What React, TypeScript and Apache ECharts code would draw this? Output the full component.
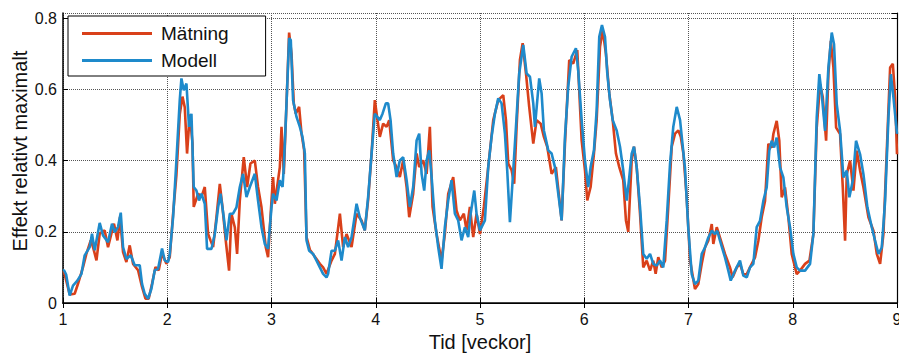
import React, { useEffect, useRef } from "react";
import * as echarts from "echarts";

const seriesNames = ["Mätning", "Modell"];
const xTicks = [1, 2, 3, 4, 5, 6, 7, 8, 9];
const yTickLabels = ["0", "0.2", "0.4", "0.6", "0.8"];

const matning: [number, number][] = [
  [1.000,0.085],[1.010,0.087],[1.064,0.024],[1.112,0.026],[1.144,0.054],[1.192,0.101],[1.225,0.139],[1.266,0.176],[1.288,0.157],[1.321,0.120],[1.352,0.195],[1.400,0.204],[1.432,0.157],[1.464,0.195],[1.489,0.223],[1.522,0.176],[1.547,0.242],[1.576,0.143],[1.608,0.115],[1.640,0.162],[1.672,0.110],[1.720,0.092],[1.758,0.045],[1.791,0.012],[1.822,0.012],[1.854,0.054],[1.887,0.101],[1.918,0.092],[1.950,0.139],[1.992,0.110],
  [2.024,0.129],[2.056,0.250],[2.088,0.360],[2.120,0.530],[2.146,0.580],[2.168,0.550],[2.190,0.420],[2.216,0.530],[2.242,0.450],[2.254,0.270],[2.296,0.307],[2.328,0.298],[2.360,0.326],[2.392,0.194],[2.415,0.176],[2.440,0.157],[2.472,0.241],[2.504,0.335],[2.530,0.269],[2.561,0.176],[2.593,0.091],[2.616,0.251],[2.648,0.213],[2.670,0.138],[2.696,0.288],[2.734,0.410],[2.766,0.326],[2.798,0.392],[2.840,0.400],[2.871,0.326],[2.904,0.269],[2.945,0.157],[2.967,0.129],
  [3.000,0.288],[3.015,0.354],[3.032,0.279],[3.080,0.382],[3.096,0.495],[3.118,0.363],[3.144,0.560],[3.169,0.760],[3.192,0.700],[3.214,0.560],[3.233,0.532],[3.265,0.551],[3.288,0.476],[3.313,0.430],[3.336,0.185],[3.368,0.150],[3.416,0.130],[3.464,0.110],[3.495,0.100],[3.528,0.082],[3.576,0.119],[3.608,0.138],[3.656,0.251],[3.687,0.157],[3.720,0.194],[3.768,0.157],[3.816,0.251],[3.864,0.232],[3.895,0.204],[3.927,0.290],[3.960,0.420],[3.991,0.570],
  [4.039,0.467],[4.071,0.504],[4.104,0.495],[4.129,0.514],[4.167,0.401],[4.200,0.382],[4.231,0.354],[4.263,0.401],[4.296,0.326],[4.321,0.241],[4.359,0.307],[4.392,0.420],[4.417,0.382],[4.455,0.401],[4.488,0.363],[4.519,0.495],[4.545,0.270],[4.583,0.194],[4.631,0.119],[4.663,0.194],[4.695,0.307],[4.743,0.354],[4.775,0.260],[4.807,0.232],[4.845,0.251],[4.871,0.204],[4.903,0.270],[4.935,0.185],[4.967,0.251],
  [5.000,0.194],[5.037,0.270],[5.079,0.382],[5.127,0.514],[5.175,0.570],[5.223,0.584],[5.249,0.514],[5.271,0.392],[5.303,0.373],[5.328,0.335],[5.351,0.495],[5.383,0.683],[5.409,0.730],[5.441,0.645],[5.472,0.551],[5.511,0.448],[5.543,0.514],[5.582,0.504],[5.613,0.467],[5.645,0.439],[5.687,0.363],[5.728,0.382],[5.783,0.232],[5.815,0.448],[5.856,0.683],[5.894,0.673],[5.933,0.711],[5.975,0.457],
  [6.007,0.373],[6.029,0.288],[6.061,0.326],[6.093,0.420],[6.119,0.514],[6.151,0.720],[6.177,0.767],[6.208,0.700],[6.240,0.589],[6.273,0.514],[6.304,0.420],[6.336,0.382],[6.374,0.345],[6.400,0.232],[6.422,0.200],[6.455,0.401],[6.477,0.439],[6.503,0.382],[6.535,0.251],[6.566,0.100],[6.599,0.119],[6.631,0.091],[6.662,0.119],[6.685,0.082],[6.710,0.129],[6.743,0.100],[6.775,0.119],[6.806,0.270],[6.839,0.439],[6.871,0.476],[6.903,0.485],[6.926,0.467],[6.951,0.420],[6.982,0.300],
  [7.015,0.120],[7.062,0.039],[7.094,0.053],[7.127,0.110],[7.158,0.156],[7.190,0.175],[7.223,0.222],[7.238,0.166],[7.271,0.213],[7.302,0.184],[7.350,0.138],[7.398,0.100],[7.424,0.072],[7.463,0.100],[7.494,0.110],[7.526,0.081],[7.559,0.081],[7.590,0.100],[7.638,0.128],[7.670,0.175],[7.702,0.241],[7.734,0.287],[7.766,0.447],[7.798,0.437],[7.814,0.475],[7.846,0.512],[7.871,0.456],[7.894,0.297],[7.926,0.325],[7.958,0.241],[7.990,0.138],
  [8.038,0.081],[8.070,0.091],[8.118,0.110],[8.160,0.119],[8.198,0.194],[8.230,0.493],[8.262,0.615],[8.288,0.578],[8.320,0.456],[8.342,0.643],[8.365,0.737],[8.390,0.662],[8.416,0.493],[8.454,0.475],[8.480,0.325],[8.502,0.175],[8.518,0.362],[8.550,0.400],[8.582,0.316],[8.614,0.428],[8.646,0.372],[8.678,0.325],[8.726,0.241],[8.774,0.203],[8.806,0.138],[8.838,0.110],[8.870,0.194],[8.902,0.428],[8.934,0.662],[8.960,0.672],[8.982,0.578],[9.000,0.418],
];

const modell: [number, number][] = [
  [1.000,0.091],[1.010,0.092],[1.030,0.080],[1.064,0.021],[1.096,0.049],[1.138,0.063],[1.177,0.082],[1.208,0.134],[1.256,0.157],[1.278,0.195],[1.304,0.148],[1.352,0.225],[1.384,0.190],[1.432,0.171],[1.470,0.223],[1.496,0.199],[1.528,0.214],[1.554,0.254],[1.576,0.157],[1.608,0.124],[1.650,0.134],[1.688,0.106],[1.736,0.106],[1.758,0.054],[1.784,0.026],[1.816,0.012],[1.848,0.040],[1.880,0.092],[1.912,0.096],[1.950,0.153],[1.976,0.120],
  [2.008,0.115],[2.024,0.138],[2.056,0.241],[2.088,0.401],[2.120,0.570],[2.136,0.631],[2.158,0.598],[2.184,0.617],[2.209,0.495],[2.232,0.532],[2.254,0.326],[2.280,0.316],[2.305,0.288],[2.328,0.307],[2.360,0.279],[2.382,0.152],[2.424,0.152],[2.456,0.194],[2.488,0.269],[2.511,0.307],[2.542,0.241],[2.568,0.176],[2.600,0.251],[2.631,0.251],[2.664,0.269],[2.696,0.326],[2.727,0.363],[2.760,0.298],[2.792,0.326],[2.840,0.363],[2.871,0.288],[2.904,0.213],[2.936,0.166],[2.967,0.152],
  [3.000,0.269],[3.015,0.307],[3.048,0.288],[3.080,0.345],[3.106,0.326],[3.118,0.382],[3.144,0.561],[3.169,0.744],[3.185,0.739],[3.207,0.570],[3.240,0.523],[3.272,0.495],[3.297,0.467],[3.320,0.420],[3.336,0.176],[3.361,0.147],[3.399,0.138],[3.432,0.119],[3.464,0.100],[3.495,0.082],[3.528,0.072],[3.543,0.082],[3.576,0.147],[3.608,0.147],[3.639,0.176],[3.672,0.119],[3.704,0.185],[3.735,0.157],[3.768,0.185],[3.816,0.279],[3.847,0.241],[3.895,0.204],[3.927,0.298],[3.960,0.420],[3.991,0.532],
  [4.039,0.514],[4.065,0.532],[4.097,0.561],[4.119,0.561],[4.142,0.514],[4.167,0.420],[4.200,0.354],[4.231,0.401],[4.263,0.410],[4.296,0.345],[4.327,0.270],[4.359,0.326],[4.392,0.457],[4.417,0.476],[4.440,0.363],[4.465,0.316],[4.488,0.401],[4.513,0.429],[4.536,0.354],[4.567,0.232],[4.599,0.157],[4.631,0.096],[4.663,0.213],[4.695,0.288],[4.727,0.345],[4.759,0.251],[4.791,0.232],[4.823,0.176],[4.855,0.213],[4.887,0.185],[4.910,0.250],[4.945,0.316],[4.967,0.251],
  [5.000,0.204],[5.047,0.232],[5.079,0.382],[5.111,0.467],[5.143,0.532],[5.175,0.575],[5.207,0.561],[5.239,0.476],[5.261,0.373],[5.287,0.227],[5.313,0.345],[5.345,0.495],[5.376,0.645],[5.415,0.725],[5.447,0.645],[5.479,0.636],[5.511,0.561],[5.527,0.495],[5.568,0.631],[5.591,0.589],[5.613,0.485],[5.655,0.429],[5.687,0.420],[5.719,0.382],[5.751,0.307],[5.783,0.232],[5.815,0.467],[5.846,0.607],[5.879,0.692],[5.920,0.716],[5.942,0.654],[5.975,0.514],
  [6.007,0.401],[6.038,0.326],[6.061,0.382],[6.093,0.429],[6.119,0.542],[6.144,0.748],[6.170,0.781],[6.199,0.748],[6.221,0.645],[6.247,0.570],[6.273,0.514],[6.311,0.485],[6.343,0.439],[6.374,0.373],[6.407,0.288],[6.432,0.354],[6.455,0.420],[6.477,0.439],[6.503,0.382],[6.535,0.270],[6.566,0.138],[6.599,0.124],[6.631,0.138],[6.662,0.110],[6.695,0.105],[6.727,0.119],[6.758,0.100],[6.791,0.232],[6.823,0.392],[6.854,0.495],[6.887,0.551],[6.919,0.514],[6.966,0.380],[6.998,0.210],
  [7.031,0.081],[7.062,0.053],[7.094,0.063],[7.127,0.138],[7.158,0.156],[7.190,0.184],[7.223,0.203],[7.254,0.194],[7.276,0.203],[7.302,0.175],[7.350,0.128],[7.382,0.091],[7.405,0.063],[7.446,0.091],[7.494,0.119],[7.526,0.077],[7.559,0.072],[7.590,0.100],[7.622,0.110],[7.654,0.213],[7.686,0.231],[7.718,0.287],[7.750,0.325],[7.775,0.428],[7.798,0.456],[7.821,0.437],[7.846,0.465],[7.878,0.381],[7.910,0.353],[7.942,0.269],[7.974,0.213],
  [8.006,0.138],[8.038,0.100],[8.070,0.091],[8.118,0.091],[8.166,0.110],[8.198,0.194],[8.230,0.522],[8.255,0.643],[8.278,0.587],[8.310,0.484],[8.342,0.662],[8.374,0.760],[8.396,0.727],[8.422,0.559],[8.454,0.484],[8.486,0.353],[8.518,0.372],[8.543,0.297],[8.576,0.344],[8.607,0.456],[8.646,0.418],[8.678,0.362],[8.716,0.269],[8.758,0.213],[8.790,0.175],[8.822,0.138],[8.854,0.156],[8.886,0.287],[8.918,0.522],[8.941,0.643],[8.966,0.578],[9.000,0.475],
];

const FONT = "'Liberation Sans', Arial, Helvetica, sans-serif";
const RED = "#d9401a";
const BLUE = "#1e8acb";

export default function App() {
  const ref = useRef<HTMLDivElement>(null);
  useEffect(() => {
    if (!ref.current) return;
    const chart = echarts.init(ref.current, null, { renderer: "svg" });
    const gridLine = { show: true, lineStyle: { color: "#555", type: "dotted" as const, width: 1 } };
    chart.setOption({
      animation: false,
      backgroundColor: "#ffffff",
      grid: { left: 63, right: 2, top: 13, bottom: 51, containLabel: false, outerBoundsMode: "none" },
      legend: {
        orient: "vertical",
        left: 68,
        top: 16,
        data: seriesNames,
        icon: "rect",
        itemWidth: 70,
        itemHeight: 3,
        itemGap: 8,
        padding: [8, 37, 6, 14],
        backgroundColor: "#ffffff",
        borderColor: "#000000",
        borderWidth: 1,
        borderRadius: 0,
        selectedMode: false,
        textStyle: { fontFamily: FONT, fontSize: 19, color: "#111", padding: [0, 0, 0, 4] },
      },
      xAxis: [
        {
          type: "value",
          min: xTicks[0],
          max: xTicks[xTicks.length - 1],
          interval: 1,
          position: "bottom",
          name: "Tid [veckor]",
          nameLocation: "middle",
          nameGap: 29,
          nameTextStyle: { fontFamily: FONT, fontSize: 20, color: "#111" },
          axisLine: { show: true, lineStyle: { color: "#000", width: 1.5 } },
          axisTick: { show: true, inside: true, length: 5, lineStyle: { color: "#000" } },
          axisLabel: { fontFamily: FONT, fontSize: 16, color: "#111", margin: 8 },
          splitLine: gridLine,
        },
        {
          type: "value",
          min: xTicks[0],
          max: xTicks[xTicks.length - 1],
          interval: 1,
          position: "top",
          axisLine: { show: true, lineStyle: { color: "#000", width: 1.2 } },
          axisTick: { show: true, inside: true, length: 5, lineStyle: { color: "#000" } },
          axisLabel: { show: false },
          splitLine: { show: false },
        },
      ],
      yAxis: [
        {
          type: "value",
          min: 0,
          max: 0.815,
          interval: 0.2,
          position: "left",
          axisLine: { show: true, lineStyle: { color: "#000", width: 1.5 } },
          axisTick: { show: true, inside: true, length: 5, lineStyle: { color: "#000" } },
          axisLabel: {
            fontFamily: FONT,
            fontSize: 16,
            color: "#111",
            margin: 6,
            showMaxLabel: false,
            formatter: (v: number) => {
              const i = Math.round(v / 0.2);
              return Math.abs(v - i * 0.2) < 1e-6 && yTickLabels[i] !== undefined ? yTickLabels[i] : "";
            },
          },
          splitLine: gridLine,
        },
        {
          type: "value",
          min: 0,
          max: 0.815,
          interval: 0.2,
          position: "right",
          axisLine: { show: true, lineStyle: { color: "#000", width: 1.2 } },
          axisTick: { show: true, inside: true, length: 5, lineStyle: { color: "#000" } },
          axisLabel: { show: false },
          splitLine: { show: false },
        },
      ],
      graphic: [
        {
          type: "text",
          x: 20,
          y: 151,
          rotation: Math.PI / 2,
          style: {
            text: "Effekt relativt maximalt",
            font: `20px ${FONT}`,
            fill: "#111",
            align: "center",
            verticalAlign: "middle",
          },
        },
      ],
      series: [
        {
          name: seriesNames[0],
          type: "line",
          data: matning,
          showSymbol: false,
          color: RED,
          lineStyle: { color: RED, width: 2.6 },
          z: 2,
        },
        {
          name: seriesNames[1],
          type: "line",
          data: modell,
          showSymbol: false,
          color: BLUE,
          lineStyle: { color: BLUE, width: 2.6 },
          z: 3,
        },
      ],
    });
    return () => chart.dispose();
  }, []);
  return (
    <div
      ref={ref}
      style={{ position: "absolute", left: 0, top: 0, width: 899, height: 354 }}
    />
  );
}
